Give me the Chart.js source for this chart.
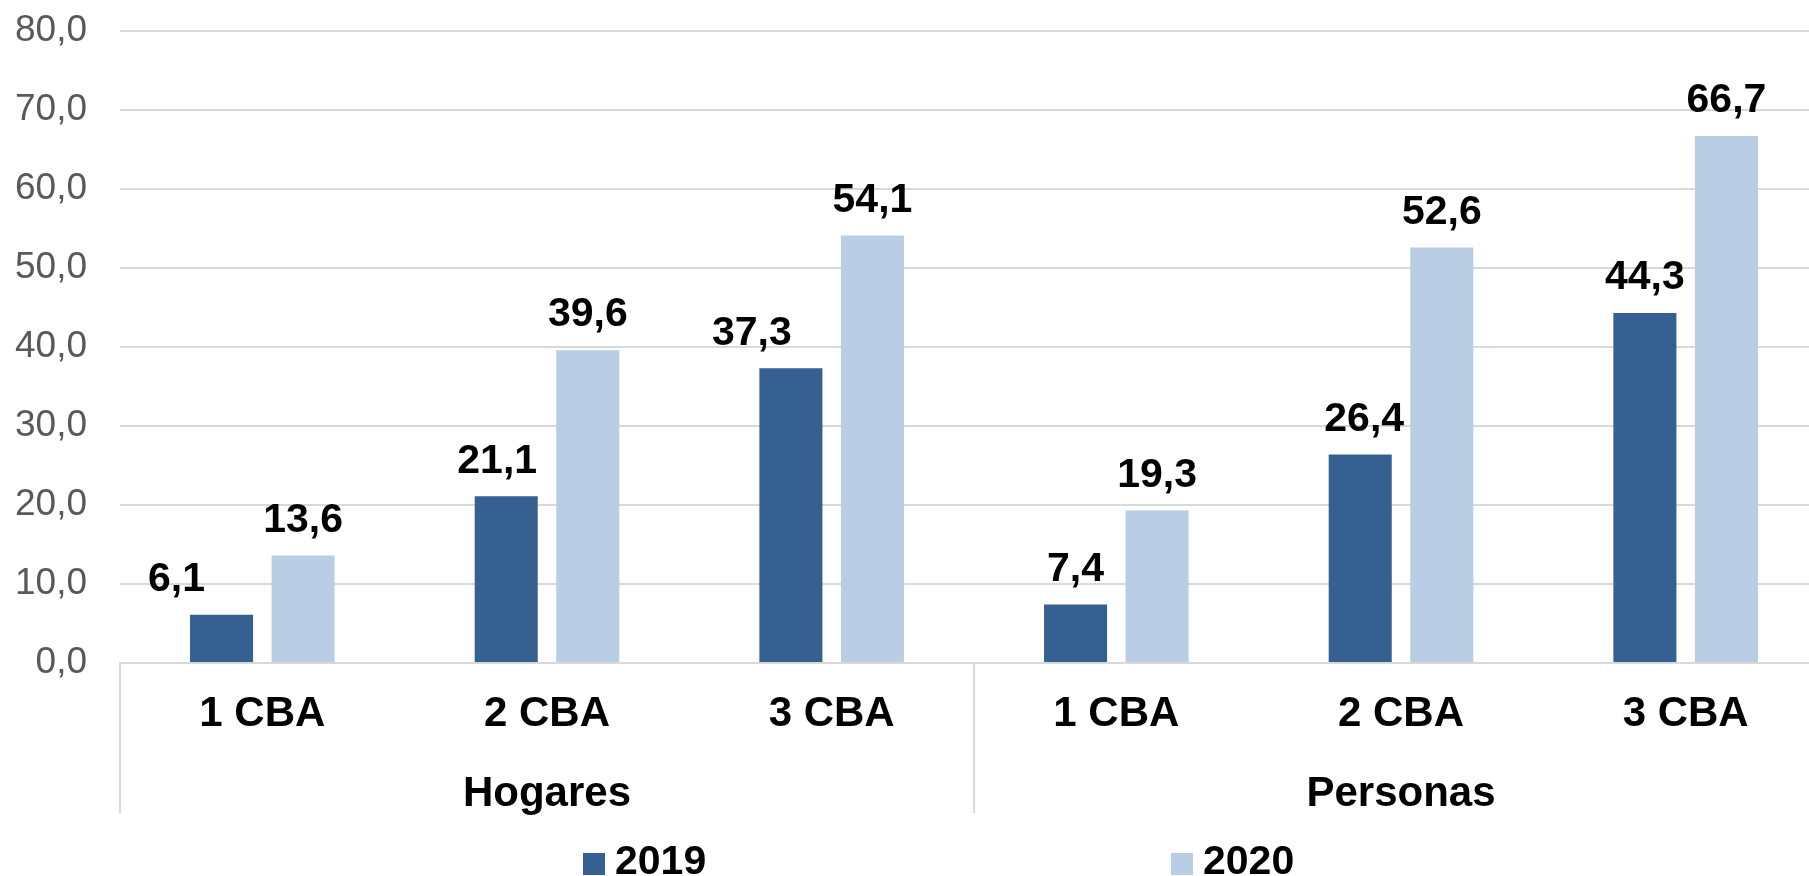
<!DOCTYPE html>
<html lang="es">
<head>
    <meta charset="UTF-8">
    <title>CBA Hogares y Personas</title>
    <script src="https://cdn.jsdelivr.net/npm/chart.js"></script>
    <style>
        body {
            margin: 0;
            background: #ffffff;
            width: 1809px;
            height: 876px;
            overflow: hidden;
            font-family: "Liberation Sans", Arial, sans-serif;
        }
        .wrap {
            position: relative;
            width: 1828px;
            height: 876px;
        }
        .legend-item {
            position: absolute;
            top: 840px;
            height: 40px;
            line-height: 40px;
            font-size: 41px;
            font-weight: bold;
            color: #000;
            white-space: nowrap;
        }
        .legend-item i {
            display: inline-block;
            width: 22px;
            height: 22px;
            margin-right: 10px;
            vertical-align: -1px;
        }
    </style>
</head>
<body>
<div class="wrap">
    <canvas id="chart"></canvas>
    <div class="legend-item" style="left:583px"><i style="background:#376092"></i>2019</div>
    <div class="legend-item" style="left:1171px"><i style="background:#b9cde5"></i>2020</div>
</div>
<script>
    // data
    const categories = ['1 CBA', '2 CBA', '3 CBA', '1 CBA', '2 CBA', '3 CBA'];
    const groups = ['Hogares', 'Personas'];
    const values2019 = [6.1, 21.1, 37.3, 7.4, 26.4, 44.3];
    const values2020 = [13.6, 39.6, 54.1, 19.3, 52.6, 66.7];
    const yTicks = [0, 10, 20, 30, 40, 50, 60, 70, 80];

    const fmt = v => v.toFixed(1).replace('.', ',');
    const FONT = '"Liberation Sans", Arial, sans-serif';

    // value labels above bars (some nudged left like in the original)
    const valueLabels = {
        id: 'valueLabels',
        afterDatasetsDraw(chart, args, opts) {
            const ctx = chart.ctx;
            ctx.save();
            ctx.font = 'bold 41px ' + FONT;
            ctx.fillStyle = '#000';
            ctx.textAlign = 'center';
            ctx.textBaseline = 'middle';
            chart.data.datasets.forEach((ds, di) => {
                chart.getDatasetMeta(di).data.forEach((bar, i) => {
                    const dx = (opts.nudge[di] && opts.nudge[di][i]) || 0;
                    ctx.fillText(fmt(ds.data[i]), bar.x + dx, bar.y - 35);
                });
            });
            ctx.restore();
        }
    };

    new Chart(document.getElementById('chart'), {
        type: 'bar',
        data: {
            labels: categories,
            datasets: [
                { label: '2019', data: values2019, backgroundColor: '#376092', xAxisID: 'x' },
                { label: '2020', data: values2020, backgroundColor: '#b9cde5', xAxisID: 'x' }
            ]
        },
        options: {
            responsive: true,
            maintainAspectRatio: false,
            animation: false,
            categoryPercentage: 0.573,
            barPercentage: 0.773,
            layout: { padding: { top: 31, left: 0, right: 0, bottom: 0 } },
            scales: {
                y: {
                    min: 0,
                    max: 80,
                    afterBuildTicks: s => { s.ticks = yTicks.map(v => ({ value: v })); },
                    afterFit: s => { s.width = 120; },
                    grid: {
                        color: '#d9d9d9',
                        lineWidth: 2,
                        drawTicks: true,
                        tickLength: 30,
                        tickColor: 'rgba(0,0,0,0)'
                    },
                    border: { display: false },
                    ticks: {
                        padding: 3,
                        color: '#595959',
                        font: { family: FONT, size: 37 },
                        callback: v => fmt(v)
                    }
                },
                x: {
                    position: 'bottom',
                    offset: true,
                    afterFit: s => { s.height = 75; },
                    grid: {
                        offset: true,
                        drawOnChartArea: false,
                        tickLength: 150,
                        lineWidth: 2,
                        color: c => (c.index % 3 === 0 ? '#d9d9d9' : 'rgba(0,0,0,0)')
                    },
                    border: { display: true, color: '#d9d9d9', width: 2 },
                    ticks: {
                        padding: -124,
                        color: '#000',
                        maxRotation: 0,
                        autoSkip: false,
                        font: { family: FONT, size: 42, weight: 'bold' }
                    }
                },
                x2: {
                    type: 'category',
                    labels: groups,
                    position: 'bottom',
                    offset: true,
                    afterFit: s => { s.height = 138; },
                    grid: { display: false, drawTicks: false },
                    border: { display: false },
                    ticks: {
                        padding: 31,
                        color: '#000',
                        maxRotation: 0,
                        font: { family: FONT, size: 42, weight: 'bold' }
                    }
                }
            },
            plugins: {
                legend: { display: false },
                tooltip: { enabled: false },
                valueLabels: { nudge: [[-45, -9, -39, 0, 4, 0], []] }
            }
        },
        plugins: [valueLabels]
    });
</script>
</body>
</html>
